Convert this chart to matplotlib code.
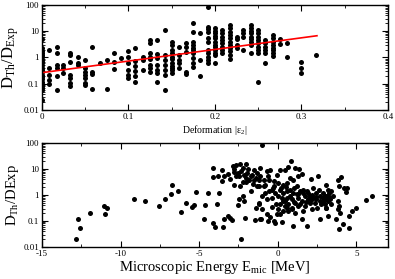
import numpy as np
import matplotlib
matplotlib.use("Agg")
from matplotlib import pyplot as plt
from matplotlib.ticker import LogLocator, MultipleLocator, FixedLocator, FixedFormatter, NullFormatter

plt.rcParams["font.family"] = ["Liberation Serif", "DejaVu Serif"]
plt.rcParams["mathtext.fontset"] = "stix"

# top panel: deformation columns and ratio values in each column
def_x = [0.0, 0.008, 0.017, 0.025, 0.033, 0.042, 0.05, 0.058, 0.067, 0.075,
         0.083, 0.092, 0.1, 0.108, 0.117, 0.125, 0.133, 0.142, 0.15, 0.158,
         0.167, 0.175, 0.183, 0.192, 0.2, 0.208, 0.217, 0.225, 0.233, 0.242,
         0.25, 0.258, 0.267, 0.275, 0.283, 0.3, 0.317]
def_ratio = [
    [4.9, 2.2, 1.8, 1.5, 1.2, 1.0, 0.8, 0.65, 0.5, 0.4, 0.33, 0.27, 0.22, 0.18,
     0.15, 0.12, 0.1, 0.085, 0.07, 0.06, 0.023],
    [1.9, 0.39, 0.22, 0.14, 0.1],
    [2.6, 1.45, 0.5, 0.39, 0.19, 0.06],
    [0.5, 0.4, 0.25],
    [1.5, 1.25, 0.7, 0.22, 0.16, 0.11, 0.08],
    [1.07, 0.6, 0.5],
    [0.8, 0.39, 0.29, 0.22, 0.16, 0.11, 0.09],
    [2.6, 0.29, 0.23, 0.063],
    [0.64],
    [0.8, 0.063],
    [1.45, 0.7, 0.35],
    [0.93],
    [1.8, 1.0, 0.6, 0.33, 0.22, 0.17],
    [2.2, 0.76, 0.48, 0.31, 0.2, 0.12],
    [1.07, 0.8, 0.33],
    [4.6, 3.5, 1.45, 1.07, 0.85, 0.5, 0.39, 0.29],
    [4.6, 1.36, 0.93, 0.5, 0.33, 0.26, 0.12],
    [11, 1.25, 0.8, 0.5, 0.33, 0.22, 0.06],
    [4, 3, 1.9, 1.45, 1.07, 0.85, 0.6, 0.48, 0.39, 0.33, 0.26],
    [2.6, 1.25, 0.8, 0.6, 0.39],
    [3.5, 2.6, 1.65, 0.29, 0.23],
    [20, 9.7, 4, 3, 2.4, 1.9, 1.45, 0.93, 0.6, 0.45],
    [8.3, 0.8, 0.19],
    [87, 15, 12, 9.7, 5.4, 4, 1.9, 1.45, 1.07, 0.8, 0.64],
    [13, 10.5, 8.3, 6.6, 5.4, 4, 3, 2.6, 1.9, 1.5, 1.25, 0.64],
    [11, 8.3, 6.2, 4.6, 3.5, 2.6, 1.9, 1.45],
    [17, 13, 9.7, 7.2, 5.4, 4, 3, 2.2, 1.7, 1.25, 0.85],
    [6.2, 4.9, 3, 2.2],
    [11, 8.3, 6.2, 1.9],
    [17, 13, 10.5, 8.3, 6.2, 4.9, 4, 3, 1.45],
    [11, 8.3, 6.2, 4.6, 3.5, 2.6, 1.9, 1.45, 0.12],
    [4.6, 3.7, 2.6, 1.9, 1.45, 0.64],
    [7.2, 5.4, 4, 3, 2.3, 1.9, 1.45, 1.12],
    [4.9, 3.3],
    [3.5, 1.0],
    [0.7, 0.39, 0.25],
    [1.25],
]
# red fit line: value at zero deformation and decades per unit deformation
fit_at_zero = 0.263
fit_slope = 4.43
fit_end = 0.318

# bottom panel: microscopic energy (MeV) and ratio
emic = [-12.84, -12.69, -12.58, -11.95, -11.07, -11.0, -10.86, -9.16, -8.42, -7.58,
        -7.18, -6.81, -6.7, -6.34, -6.18, -5.86, -5.48, -5.34, -5.19,
        -4.62, -4.45, -4.13, -4.13, -3.82, -3.72, -3.86, -3.57, -3.55, -3.40, -3.19,
        -3.02, -2.87, -2.77, -2.66, -4.70, -4.13, -3.99, -3.50, -3.44, -3.15,
        -3.02, -2.93, -2.10, -1.47, -2.31, -2.77, -2.39, -1.68, -2.46, -2.24,
        -2.14, -2.56, -1.40,
        -2.81, -2.56, -2.46, -2.35, -2.24, -2.14, -2.03, -1.93, -1.83, -1.72,
        -1.61, -1.51, -1.40, -1.30, -1.20, -2.41, -2.03, -1.89, -1.51, -2.03,
        -1.30, -1.20, -1.13, -2.66,
        0.84, 0.67, 0.47, 1.10, 1.35, 1.51, 1.31, 0.15, -0.06, -0.48,
        -0.69, -1.11, -1.11, -0.90, -0.58, -0.27, 0.04, 0.36, 0.57, 0.78,
        0.99, 1.20, -1.0, 2.14, 2.56, 2.25, 2.46, 2.67, 2.88, 3.09,
        2.77, 2.35, 1.93, 1.72, 1.51, 1.31, 1.10, 0.88, 0.67, 0.47,
        0.25, 0.04, -0.17, -0.38, -0.58, -0.80, -1.01, -1.04, -0.69, -0.48,
        -0.27, -0.17, -0.06, 0.15, 0.25, -0.63, 0.99, 1.51, 1.83, 2.67,
        1.10, 0.67, 0.88, 0.47, 3.09,
        -0.90, -0.27, 0.15, 0.36, 0.57, 0.78, 0.99, 1.20, 1.41, 1.62,
        1.83, 2.04, 2.25, 2.46, 2.88, 2.98, 0.57, 0.15, 0.04, 0.36,
        1.31, 1.72, 2.04, 2.52, 2.98, -0.38, -0.69, -1.22, -1.22, -1.01,
        4.01, 3.80, 3.90, 4.22, 4.43, 4.33, 3.07, 3.17, 3.28, 3.38,
        3.07, 3.28, 3.49, 3.17, 3.38, 3.07, 3.80, 3.90, 3.80, 3.95,
        3.17, 3.70, 4.12, 3.87, 4.53, 4.53, 4.70, 4.96, 5.59, 5.96,
        0.2, 0.5, 0.8, 1.0, 1.3, 1.6, 1.9, 2.2, 2.6, 2.9,
        3.2, 0.3, 0.6, 1.0, 1.4, 1.8, 2.1, 2.4, 2.7, 3.3,
        -0.4, -0.1, 0.9, 1.6, 2.2, -0.8, -0.3, -1.6, -2.2, -0.6]
emic_ratio = [0.021, 0.115, 0.054, 0.21, 0.37, 0.18, 0.31, 0.69, 0.6, 0.38,
              0.69, 1.1, 2.45, 1.4, 0.23, 0.49, 0.34, 0.42, 1.36,
              0.41, 1.15, 11, 5.0, 5.6, 1.15, 0.46, 8.9, 3.4, 5.2, 6.2,
              4.2, 13.5, 10, 14.8, 0.115, 0.081, 0.06, 0.06, 0.123, 0.162,
              0.135, 0.11, 0.129, 0.11, 0.021, 2.5, 2.2, 1.4, 0.68, 0.91,
              0.58, 0.40, 0.32,
              7.6, 7.1, 5.3, 8.3, 11, 6.1, 4.6, 7.1, 3.9, 5.3,
              6.1, 3.7, 4.6, 7.1, 3.9, 16, 16, 10, 9, 3.1,
              2.2, 0.44, 0.12, 5.3,
              20, 12, 9.5, 11, 10, 6.6, 5.3, 9.5, 6.1, 9.5,
              8.3, 11, 5.3, 3.9, 3.7, 3.4, 2.9, 2.5, 2.9, 4.6,
              3.9, 2.2, 87, 4.2, 5.3, 1.9, 1.23, 0.91, 1.23, 0.68,
              0.44, 0.5, 0.68, 0.91, 0.59, 0.78, 0.5, 0.68, 0.44, 0.58,
              0.78, 0.91, 1.23, 1.6, 1.4, 1.23, 0.91, 0.115, 0.18, 0.145,
              0.10, 0.085, 0.18, 0.18, 0.091, 0.1, 0.065, 0.115, 0.065, 0.115,
              0.21, 0.24, 0.32, 0.37, 0.32,
              2.2, 2.2, 1.6, 1.23, 1.4, 0.91, 1.23, 1.07, 1.4, 1.23,
              1.4, 0.91, 0.78, 0.68, 0.58, 0.91, 0.32, 0.44, 0.28, 0.24,
              0.37, 0.37, 0.5, 0.32, 0.44, 0.78, 0.68, 2.2, 0.5, 0.28,
              5.0, 3.7, 2.2, 1.9, 1.9, 1.3, 2.5, 1.6, 1.2, 1.4,
              0.91, 0.78, 0.91, 0.58, 0.44, 0.32, 0.58, 0.37, 0.28, 0.21,
              0.16, 0.115, 0.074, 0.05, 0.055, 0.16, 0.24, 0.32, 0.63, 0.95,
              1.8, 2.0, 1.5, 1.8, 1.1, 1.6, 1.2, 1.0, 1.5, 0.75,
              0.95, 0.6, 0.75, 0.55, 0.45, 0.55, 0.65, 0.85, 0.6, 0.7,
              0.35, 0.45, 0.28, 0.25, 0.3, 2.5, 1.9, 2.6, 3.3, 5.5]

yticks = [0.01, 0.1, 1, 10, 100]
ytick_labels = ["0.01", "0.1", "1", "10", "100"]


def style_log_y(ax):
    ax.set_yscale("log")
    ax.set_ylim(0.01, 100)
    ax.yaxis.set_major_locator(FixedLocator(yticks))
    ax.yaxis.set_major_formatter(FixedFormatter(ytick_labels))
    ax.yaxis.set_minor_locator(LogLocator(base=10, subs=np.arange(2, 10)))
    ax.yaxis.set_minor_formatter(NullFormatter())
    ax.tick_params(which="both", direction="in", top=True, right=True, labelsize=6.5, pad=2)
    ax.tick_params(which="major", length=4, width=0.8)
    ax.tick_params(which="minor", length=2, width=0.6)
    for s in ax.spines.values():
        s.set_linewidth(1.0)


fig = plt.figure(figsize=(3.95, 2.79), dpi=100)
ax1 = fig.add_axes([0.106, 0.606, 0.876, 0.376])
ax2 = fig.add_axes([0.106, 0.115, 0.876, 0.372])

# top: ratio vs deformation
xs = [x for x, col in zip(def_x, def_ratio) for _ in col]
ys = [v for col in def_ratio for v in col]
ax1.plot(xs, ys, "o", color="black", ms=3.6, mew=0)
fx = np.array([0.0, fit_end])
ax1.plot(fx, fit_at_zero * 10 ** (fit_slope * fx), color="red", lw=1.2)
ax1.set_xlim(0, 0.4)
ax1.xaxis.set_minor_locator(MultipleLocator(0.05))
style_log_y(ax1)
ax1.set_xticks([0, 0.1, 0.2, 0.3, 0.4])
ax1.set_xticklabels(["0", "0.1", "0.2", "0.3", "0.4"])
ax1.set_xlabel(r"Deformation |$\mathregular{\epsilon_2}$|", fontsize=7, labelpad=2)
ax1.set_ylabel(r"$\mathregular{D_{Th}/D_{Exp}}$", fontsize=12, labelpad=2)

# bottom: ratio vs microscopic energy
ax2.plot(emic, emic_ratio, "o", color="black", ms=3.6, mew=0)
ax2.set_xlim(-15, 7)
ax2.set_xticks([-15, -10, -5, 0, 5])
ax2.set_xticklabels(["-15", "-10", "-5", "0", "5"])
ax2.xaxis.set_minor_locator(MultipleLocator(2.5))
style_log_y(ax2)
ax2.set_xlabel(r"Microscopic Energy E$\mathregular{_{mic}}$ [MeV]", fontsize=10.5, labelpad=1)
ax2.set_ylabel(r"$\mathregular{D_{Th}}$/DExp", fontsize=10.5, labelpad=2)

fig.savefig("out.png", dpi=100)
